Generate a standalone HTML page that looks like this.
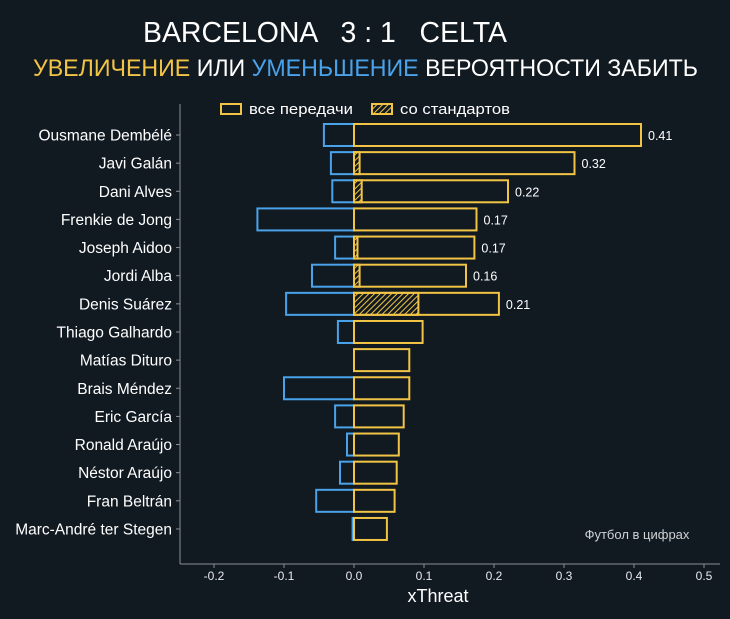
<!DOCTYPE html>
<html><head><meta charset="utf-8"><style>
html,body{margin:0;padding:0;background:#111921;}
svg{display:block;font-family:"Liberation Sans","DejaVu Sans",sans-serif;}
</style></head><body>
<svg id="chart" width="730" height="619" viewBox="0 0 730 619" xmlns="http://www.w3.org/2000/svg">
<defs>
<pattern id="hatch" patternUnits="userSpaceOnUse" width="4" height="4" patternTransform="rotate(45)">
<rect width="4" height="4" fill="#111921"/><line x1="0" y1="0" x2="0" y2="4" stroke="#f2c445" stroke-width="2"/>
</pattern>
</defs>
<rect width="730" height="619" fill="#111921"/>
<text x="325" y="42" font-size="29" fill="#ffffff" text-anchor="middle" textLength="364" lengthAdjust="spacingAndGlyphs" xml:space="preserve">BARCELONA   3 : 1   CELTA</text>
<text x="33" y="76" font-size="24" fill="#ffffff" textLength="665" lengthAdjust="spacingAndGlyphs"><tspan fill="#f2c445">УВЕЛИЧЕНИЕ</tspan> ИЛИ <tspan fill="#4aa3ea">УМЕНЬШЕНИЕ</tspan> ВЕРОЯТНОСТИ ЗАБИТЬ</text>
<g>
<rect x="221" y="104" width="20" height="10" fill="none" stroke="#f2c445" stroke-width="2"/>
<text x="249" y="114" font-size="15" fill="#ffffff" textLength="104" lengthAdjust="spacingAndGlyphs">все передачи</text>
<rect x="372" y="104" width="20" height="10" fill="url(#hatch)" stroke="#f2c445" stroke-width="2"/>
<text x="400" y="114" font-size="15" fill="#ffffff" textLength="110" lengthAdjust="spacingAndGlyphs">со стандартов</text>
</g>
<g id="axes"></g>
<g id="bars"></g>
<text x="637" y="539" font-size="13" fill="#cfd3d6" text-anchor="middle">Футбол в цифрах</text>
<text x="438" y="602" font-size="18" fill="#ffffff" text-anchor="middle">xThreat</text>
</svg>
<script>
const players = ["Ousmane Dembélé","Javi Galán","Dani Alves","Frenkie de Jong","Joseph Aidoo","Jordi Alba","Denis Suárez","Thiago Galhardo","Matías Dituro","Brais Méndez","Eric García","Ronald Araújo","Néstor Araújo","Fran Beltrán","Marc-André ter Stegen"];
const positiveValues = [0.41,0.315,0.22,0.175,0.172,0.16,0.207,0.098,0.079,0.079,0.071,0.064,0.061,0.058,0.047];
const negativeValues = [-0.043,-0.033,-0.031,-0.138,-0.027,-0.06,-0.097,-0.023,0,-0.1,-0.027,-0.01,-0.02,-0.054,-0.002];
const setPieceValues = [0,0.008,0.011,0,0.005,0.008,0.092,0,0,0,0,0,0,0,0];
const valueLabels = ["0.41","0.32","0.22","0.17","0.17","0.16","0.21","","","","","","","",""];
const xTicks = [-0.2,-0.1,0.0,0.1,0.2,0.3,0.4,0.5];
const xTickLabels = ["-0.2","-0.1","0.0","0.1","0.2","0.3","0.4","0.5"];

const NS="http://www.w3.org/2000/svg";
const X0=354, PX=700, xMinPx=180, xMaxPx=720, yTop=135, step=28.14, barH=22, axisY=564;
const xs=v=>X0+v*PX;
const ys=i=>yTop+i*step;
function mk(tag,attrs,parent){const e=document.createElementNS(NS,tag);for(const k in attrs)e.setAttribute(k,attrs[k]);parent.appendChild(e);return e;}
const axes=document.getElementById('axes'), bars=document.getElementById('bars');
let l=mk('line',{x1:xMinPx,y1:104,x2:xMinPx,y2:axisY,stroke:'#8a9096','stroke-width':1},axes);


l=mk('line',{x1:xMinPx,y1:axisY,x2:xMaxPx,y2:axisY,stroke:'#8a9096','stroke-width':1},axes);


xTicks.forEach((t,i)=>{
  const tk=mk('line',{x1:xs(t),y1:axisY,x2:xs(t),y2:axisY+4,stroke:'#8a9096'},axes);
  
  
  const tx=mk('text',{x:xs(t),y:axisY+16,'font-size':12,fill:'#e8eaec','text-anchor':'middle'},axes);
  tx.textContent=xTickLabels[i];
  
  
});
players.forEach((p,i)=>{
  const y=ys(i);
  const tk=mk('line',{x1:xMinPx-4,y1:y,x2:xMinPx,y2:y,stroke:'#8a9096'},axes);
  
  
  const t=mk('text',{x:172,y:y+5.5,'font-size':15.5,fill:'#ffffff','text-anchor':'end'},axes);
  t.textContent=p;
  
  
  const n=negativeValues[i];
  if(n<0){
    const r=mk('rect',{x:xs(n),y:y-barH/2,width:xs(0)-xs(n),height:barH,fill:'none',stroke:'#4aa3ea','stroke-width':2},bars);
    
    
  }
  const sp=setPieceValues[i];
  if(sp>0){
    const h=mk('rect',{x:xs(0),y:y-barH/2,width:xs(sp)-xs(0),height:barH,fill:'url(#hatch)',stroke:'#f2c445','stroke-width':2},bars);
    
    
  }
  const v=positiveValues[i];
  const r=mk('rect',{x:xs(0),y:y-barH/2,width:xs(v)-xs(0),height:barH,fill:'none',stroke:'#f2c445','stroke-width':2},bars);
  
  
  if(valueLabels[i]){
    const t2=mk('text',{x:xs(v)+7,y:y+5,'font-size':12.5,fill:'#ffffff'},bars);
    t2.textContent=valueLabels[i];
    
    
  }
});
</script>
</body></html>
